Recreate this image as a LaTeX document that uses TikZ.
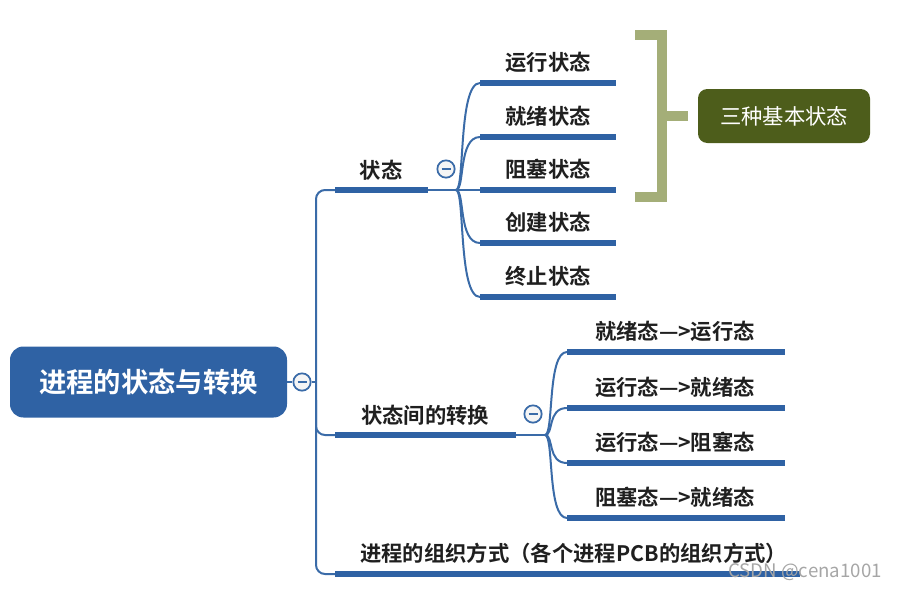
\documentclass[tikz,border=0pt]{standalone}
\usepackage{fontspec}
\setmainfont{Noto Sans CJK SC}[BoldFont={Noto Sans CJK SC Bold}]
\usetikzlibrary{calc}
\definecolor{mblue}{HTML}{2F62A4}
\definecolor{lblue}{HTML}{3A6BA8}
\definecolor{olivel}{HTML}{A4AE78}
\definecolor{olived}{HTML}{4D5D1B}
\tikzset{
  ul/.style={draw=mblue, line width=3.8pt},
  conn/.style={draw=lblue, line width=1.5pt},
  lbl/.style={font=\fontsize{16pt}{18pt}\selectfont\bfseries, text=black!88, inner sep=0pt},
  tog/.style={circle, draw=lblue, line width=1.3pt, fill=gray!8, minimum size=13pt, inner sep=0pt},
  brk/.style={draw=olivel, line width=7pt},
}
\begin{document}
\begin{tikzpicture}[x=0.75pt,y=-0.75pt]
\useasboundingbox (0,0) rectangle (898,589);
% root
\node[fill=mblue, rounded corners=10pt, minimum width=207.75pt, minimum height=53.25pt, text=white,
      font=\fontsize{20.5pt}{24pt}\selectfont\bfseries, inner sep=0pt] (root) at (148.5,382) {进程的状态与转换};
\node[tog] (t0) at (302,382) {};
\draw[lblue, line width=1.4pt] ($(t0)+(-4.5,0)$) -- ($(t0)+(4.5,0)$);
% trunk
\coordinate (a1) at (335,190);
\coordinate (b1) at (428,190);
\coordinate (a2) at (335,435);
\coordinate (b2) at (516,435);
\coordinate (a3) at (335,574);
\coordinate (b3) at (800,574);
\coordinate (tk) at (316,382);
\draw[conn] (root.east) -- (t0.west);
\draw[conn] (t0.east) -- (tk);
\draw[conn, rounded corners=6.75pt] (a1) -- (316,190) -- (316,574) -- (a3);
\draw[conn, rounded corners=6.75pt] (316,400) -- (316,435) -- (a2);
% branch 1
\draw[ul] (a1) -- (b1);
\node[lbl] (s1) at (381,170) {状态};
\node[tog] (t1) at (446,169) {};
\draw[lblue, line width=1.4pt] ($(t1)+(-4.5,0)$) -- ($(t1)+(4.5,0)$);
\coordinate (j1) at (456,190);
\draw[conn] (b1) -- (j1);
\foreach \y/\n/\t in {83/c1/运行状态,137/c2/就绪状态,190/c3/阻塞状态,243/c4/创建状态,297/c5/终止状态}{
  \coordinate (\n s) at (480,\y);
  \coordinate (\n e) at (616,\y);
  \draw[ul] (\n s) -- (\n e);
  \draw[conn] (j1) .. controls (465,190) and (458,\y) .. (\n s);
  \node[lbl] (\n) at (548,\y-21) {\t};
}
% bracket
\coordinate (k1) at (635,35);
\coordinate (k2) at (662,35);
\coordinate (k3) at (662,197);
\coordinate (k4) at (635,197);
\coordinate (km) at (662,116);
\coordinate (ke) at (688,116);
\draw[brk] (k1) -- (k2) -- (k3) -- (k4);
\draw[brk] (km) -- (ke);
\node[fill=olived, rounded corners=7pt, minimum width=129pt, minimum height=40.5pt, text=white,
      font=\fontsize{16pt}{18pt}\selectfont, inner sep=0pt] (box) at (784,116) {三种基本状态};
% branch 2
\draw[ul] (a2) -- (b2);
\node[lbl] (s2) at (425,415) {状态间的转换};
\node[tog] (t2) at (533,414) {};
\draw[lblue, line width=1.4pt] ($(t2)+(-4.5,0)$) -- ($(t2)+(4.5,0)$);
\coordinate (j2) at (545,435);
\draw[conn] (b2) -- (j2);
\foreach \y/\n/\t in {352/d1/就绪态—>运行态,408/d2/运行态—>就绪态,463/d3/运行态—>阻塞态,518/d4/阻塞态—>就绪态}{
  \coordinate (\n s) at (567,\y);
  \coordinate (\n e) at (785,\y);
  \draw[ul] (\n s) -- (\n e);
  \draw[conn] (j2) .. controls (554,435) and (547,\y) .. (\n s);
  \node[lbl] (\n) at (675,\y-21) {\t};
}
% branch 3
\draw[ul] (a3) -- (b3);
\node[lbl, anchor=west] (s3) at (360,553) {进程的组织方式（各个进程PCB的组织方式）};
% watermark
\node[text=gray!70, font=\fontsize{14pt}{16pt}\selectfont, inner sep=0pt, anchor=west] (wm) at (728,572) {CSDN @cena1001};
\end{tikzpicture}
\end{document}
